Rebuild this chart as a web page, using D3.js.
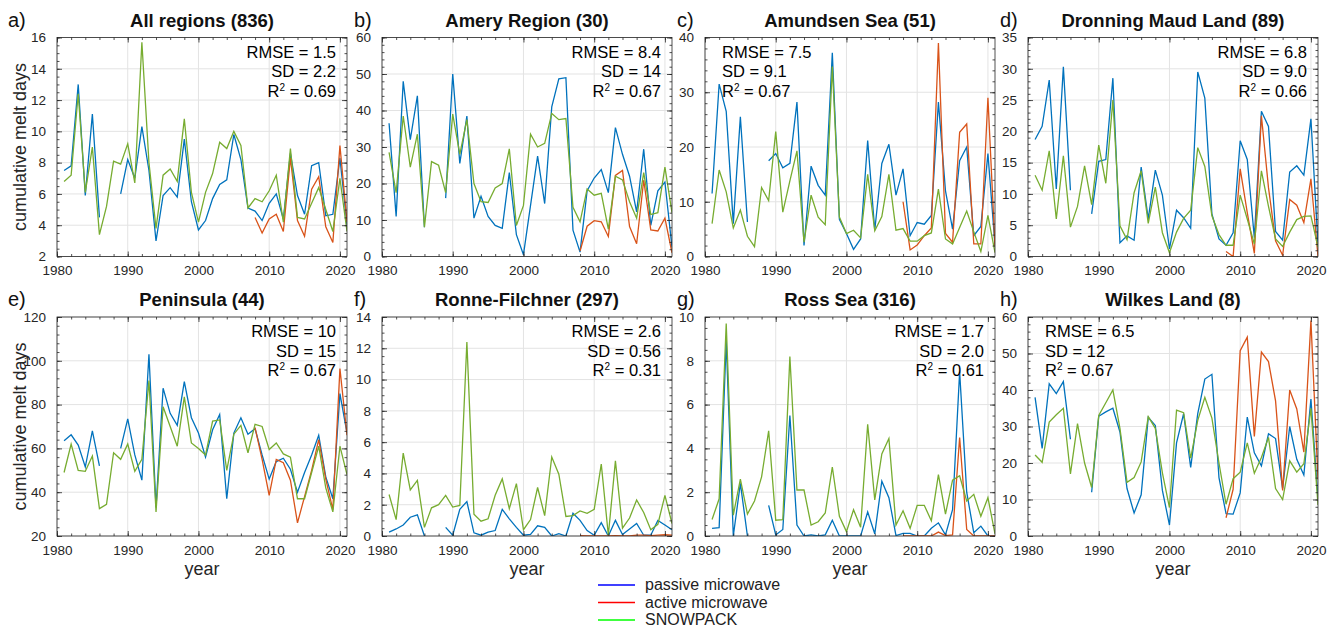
<!DOCTYPE html>
<html>
<head>
<meta charset="utf-8">
<script src="https://cdn.jsdelivr.net/npm/d3@7"></script>
<style>
  body { margin: 0; background: #fff; }
  svg { font-family: "Liberation Sans", Arial, Helvetica, sans-serif; }
</style>
</head>
<body>
<div id="chart"></div>
<script>
(function() {
  var width = 1336,
    height = 627;

  var years = [1981,1982,1983,1984,1985,1986,1987,1988,1989,1990,
    1991,1992,1993,1994,1995,1996,1997,1998,1999,2000,
    2001,2002,2003,2004,2005,2006,2007,2008,2009,2010,
    2011,2012,2013,2014,2015,2016,2017,2018,2019,2020,2021];
  var activeYears = [2008,2009,2010,2011,2012,2013,2014,2015,2016,2017,2018,2019,2020,2021];
  var xTicks = [1980, 1990, 2000, 2010, 2020];

  // a) all regions
  var allPassive = [7.5,7.8,13.0,5.9,11.1,4.5,null,null,6.0,8.2, 7.0,10.3,7.5,3.0,5.9,6.4,5.8,9.5,5.5,3.7, 4.3,5.7,6.6,6.9,9.8,8.2,5.1,4.9,4.3,5.4, 6.0,4.4,8.6,5.9,4.7,7.8,8.0,4.6,4.7,8.3, 4.0];
  var allActive = [4.5,3.5,4.4,4.7,3.6,8.3,4.3,3.3,6.3,7.1,3.9,2.9,9.1,4.2];
  var allSnow = [6.8,7.2,12.4,6.1,9.0,3.4,5.2,8.1,7.9,9.2, 6.7,15.7,8.0,3.8,7.2,7.6,6.8,10.8,6.1,4.2, 6.1,7.3,9.3,8.9,10.0,9.1,5.1,5.7,5.5,6.2, 7.2,4.2,8.9,4.5,4.4,5.4,6.4,5.0,3.6,7.0, 3.6];

  // b) amery
  var ameryPassive = [36.5,11,48,32,44,8,null,null,16,50, 25.5,38.5,10.5,16.5,11,8.5,7.7,23,6,0.5, 14,27.5,14.5,41,48.7,49,7.2,1.2,18,21.5, 23.8,17.5,35.3,28,22,12.2,29.4,8.5,18,20.4, 2.5];
  var ameryActive = [1.5,8.3,9.8,9.5,5.5,22.2,23.6,8.2,3.5,20.9,7.3,7,10.5,1];
  var amerySnow = [28.5,17.5,38.5,24.5,33.5,8,26,25,17.5,39, 28,37.5,20,15,14.8,18.8,20,29.5,8.5,14, 33.5,30,31,39.2,37.5,37.8,13.5,9.5,18.5,16.8, 17.3,7.5,22,21,15,10.5,23,11.5,12,24.5, 12];

  // c) amundsen
  var amundsenPassive = [11.5,31.5,26.5,6,25.5,6.3,null,null,17.5,18.8, 16.2,17,28.2,2,16.5,13,11.2,37.2,6.8,4.2, 1.3,3.2,21.2,4.8,17,20.5,11.2,16,3.8,6.2, 5.9,7.5,28.2,12,5,17.5,20,3.8,5.5,18.8, 2];
  var amundsenActive = [10,1.2,2.1,3.8,5.2,39,4.2,2.6,22.7,24.2,2.3,2.3,29,1.8];
  var amundsenSnow = [6,15.8,11.8,5.2,8.5,3.7,1.8,12.6,10.2,22.8, 8.1,13.8,19.3,2.6,11.2,7.2,5.8,34.7,7.2,4.2, 4.8,3.4,15,4.7,7.3,15,4.8,5.1,2.8,2.8, 3.8,4.3,12.3,3.2,2.3,5.3,8.3,4.5,0.9,7.5, 0.7];

  // d) dronning maud land
  var dmlPassive = [18.7,20.8,28.2,10.8,30.3,10.6,null,null,6.8,15.2, 15.5,28.5,2.2,3.3,2.6,14.3,6,13.8,9.8,1.2, 7.4,6.2,4.5,29.5,25.3,6.8,2.8,1.8,3.8,18.5, 15.5,3,23.2,20.8,4,2.6,13.5,14.5,13,22, 1.8];
  var dmlActive = [0.8,0,14,7,0.5,22.5,11,2.5,0.2,9.1,8.2,5.4,12.4,0];
  var dmlSnow = [13,10.6,16.9,6,16.1,4.7,8,14.5,8.3,17.8, 11.7,25,4.9,2.7,10.2,13.7,5.3,11.1,3.8,0.6, 3.9,6.1,7.4,17.4,14.4,6.5,3.5,1.8,1.8,9.8, 6,2,13.7,8,2.8,1.6,3.9,5.9,6.4,6.5, 1.5];

  // e) peninsula
  var penPassive = [63.5,66.2,61.5,51.5,68,52,null,null,60,73.5, 57,45.5,103,33,87.5,76,70.5,90.5,74,67, 56,68.5,75.5,37,67,74,66.5,69,57,46, 54,55.5,50.5,40,49,57,66,47,37,85, 67];
  var penActive = [69.5,55,38.5,55,53.5,45.5,26,38,50,64,46,32,96.5,66];
  var penSnow = [49,62,50,49.5,56.5,32.5,34.5,58,55,62, 49.5,55,91,31,79,70,61,83.5,62.5,60, 57,72.5,73,50,66.5,70.5,58,71,70,59.5, 62.5,57.5,56,37,37,49,61,42,31,61, 48];

  // f) ronne-filchner
  var ronnePassive = [0.25,0.45,0.7,1.2,1.35,0,null,null,0.55,0.05, 1.7,2.2,0.2,0.05,0.25,0.35,1.7,1.1,0.55,0.05, 0.1,0.65,0.55,0,0.15,0,1.45,1.0,0.35,0.05, 0.85,0,1.0,0.1,0.45,0.8,0.05,0.05,1.0,0.7, 0.4];
  var ronneActive = [0.02,0.01,0.01,0.01,0.01,0.02,0.01,0.01,0.05,0.06,0.03,0.05,0.08,0.05];
  var ronneSnow = [2.65,1.05,5.3,2.95,3.55,0.55,1.8,2.0,2.6,1.85, 1.95,12.4,1.4,0.95,1.1,2.6,3.65,1.75,3.35,0.4, 1.05,3.1,1.3,5.05,3.95,1.25,1.3,1.6,1.45,1.7, 4.6,0.05,4.8,0.5,1.15,2.3,1.5,0.4,0.75,2.6, 0.8];

  // g) ross sea
  var rossPassive = [0.35,0.38,8.9,0,2.4,0,null,null,1.4,0.05, 0.3,5.5,0.5,0,0.05,0,0.05,0.72,0,0, 0,0,1.1,0.1,2.5,1.75,0.02,0.12,0.12,0, 0,0.35,0.6,0.05,1.2,7.5,2.0,0.15,0.45,0, 0];
  var rossActive = [0,0,0,0,0,0.18,0.02,0.05,4.5,0.3,0,0,0,0];
  var rossSnow = [0.75,1.7,9.7,0.95,2.6,1.0,1.6,2.7,4.8,0.72, 0.75,8.2,2.1,2.1,0.5,0.65,1.05,3.15,0.9,0.2, 1.2,0.4,5.1,1.65,3.75,4.45,0.5,1.15,0.35,1.4, 1.4,0.7,2.8,1.0,2.55,2.75,1.6,1.9,0.9,1.75, 0.1];

  // h) wilkes land
  var wilkesPassive = [38,24,41.7,39,42.3,26.5,null,null,12,32.8, 34,35,28.5,13,6.3,11.3,32.5,30.3,12.5,3, 25.5,33.5,18.8,33.5,43,44.3,16,6.1,6,11.8, 32.6,22.8,19.2,28,26.7,13,30,21,16.7,37.5, 10];
  var wilkesActive = [5,12.8,50.8,54.5,27.3,50.4,47.8,37,12.5,40,34.8,23,59,15.5];
  var wilkesSnow = [22.2,20.2,31.2,33.2,35,17,30.8,20,13.3,33, 36.5,40,29.5,14.7,16,20.3,32.7,29.5,17.3,7.8, 34.5,33.8,21.3,31.7,38,32.3,20,8.7,15.7,17.5, 25.5,17.2,21.5,27,13,10,20.6,17.5,19.8,35, 8.5];

  var letters = ["a)", "b)", "c)", "d)", "e)", "f)", "g)", "h)"];
  var titles = ["All regions (836)", "Amery Region (30)", "Amundsen Sea (51)", "Dronning Maud Land (89)",
    "Peninsula (44)", "Ronne-Filchner (297)", "Ross Sea (316)", "Wilkes Land (8)"];
  var rmse = ["1.5", "8.4", "7.5", "6.8", "10", "2.6", "1.7", "6.5"];
  var sd = ["2.2", "14", "9.1", "9.0", "15", "0.56", "2.0", "12"];
  var r2 = ["0.69", "0.67", "0.67", "0.66", "0.67", "0.31", "0.61", "0.67"];
  var yTicks = [
    [2,4,6,8,10,12,14,16],
    [0,10,20,30,40,50,60],
    [0,10,20,30,40],
    [0,5,10,15,20,25,30,35],
    [20,40,60,80,100,120],
    [0,2,4,6,8,10,12,14],
    [0,2,4,6,8,10],
    [0,10,20,30,40,50,60]
  ];
  var passive = [allPassive, ameryPassive, amundsenPassive, dmlPassive, penPassive, ronnePassive, rossPassive, wilkesPassive];
  var active = [allActive, ameryActive, amundsenActive, dmlActive, penActive, ronneActive, rossActive, wilkesActive];
  var snow = [allSnow, amerySnow, amundsenSnow, dmlSnow, penSnow, ronneSnow, rossSnow, wilkesSnow];

  var legendNames = ["passive microwave", "active microwave", "SNOWPACK"];
  var legendColors = ["#0000ff", "#ff0000", "#00ff00"];

  var colPassive = "#0072BD",
    colActive = "#D95319",
    colSnow = "#77AC30",
    axisCol = "#262626";

  var colLeft = [57, 382, 705, 1028],
    rowTop = [37.5, 317],
    pw = 290,
    ph = 219;

  var svg = d3.select("#chart")
    .append("svg")
    .attr("width", width)
    .attr("height", height)

  svg.append("rect").attr("width", width).attr("height", height).attr("fill", "#fff")

  letters.forEach(function(letter, i) {
    var col = i % 4,
      row = Math.floor(i / 4),
      left = colLeft[col],
      top = rowTop[row],
      ticks = yTicks[i],
      yStep = ticks[1] - ticks[0];

    var x = d3.scaleLinear().domain([1980, 2021]).range([0, pw])
    var y = d3.scaleLinear().domain([ticks[0], ticks[ticks.length - 1]]).range([ph, 0])

    var g = svg.append("g").attr("transform", "translate(" + left + "," + top + ")")

    // grid
    g.selectAll(".gx").data(xTicks).enter().append("line")
      .attr("x1", function(d) { return x(d) }).attr("x2", function(d) { return x(d) })
      .attr("y1", 0).attr("y2", ph)
      .attr("stroke", "#e3e3e3").attr("stroke-width", 1)
    g.selectAll(".gy").data(ticks).enter().append("line")
      .attr("x1", 0).attr("x2", pw)
      .attr("y1", function(d) { return y(d) }).attr("y2", function(d) { return y(d) })
      .attr("stroke", "#e3e3e3").attr("stroke-width", 1)

    g.append("clipPath").attr("id", "clip" + i)
      .append("rect").attr("width", pw).attr("height", ph)

    var plot = g.append("g").attr("clip-path", "url(#clip" + i + ")")

    var line = d3.line()
      .defined(function(d) { return d[1] !== null })
      .x(function(d) { return x(d[0]) })
      .y(function(d) { return y(d[1]) })

    var pData = years.map(function(yr, k) { return [yr, passive[i][k]] })
    var aData = activeYears.map(function(yr, k) { return [yr, active[i][k]] })
    var sData = years.map(function(yr, k) { return [yr, snow[i][k]] })

    plot.append("path").datum(pData).attr("d", line)
      .attr("fill", "none").attr("stroke", colPassive).attr("stroke-width", 1.3)
    plot.append("path").datum(aData).attr("d", line)
      .attr("fill", "none").attr("stroke", colActive).attr("stroke-width", 1.3)
    plot.append("path").datum(sData).attr("d", line)
      .attr("fill", "none").attr("stroke", colSnow).attr("stroke-width", 1.3)

    // axes with inward ticks
    var xMinor = d3.range(1980, 2022, 2)
    var yMinor = d3.range(ticks[0], ticks[ticks.length - 1] + 1e-9, yStep <= 2 ? 0.5 : (yStep == 5 ? 1 : yStep / 5))

    function styleAxis(sel) {
      sel.select(".domain").remove()
      sel.selectAll("line").attr("stroke", axisCol).attr("stroke-width", 0.8)
      sel.selectAll("text").attr("fill", axisCol).style("font-size", "13.5px")
        .style("font-family", "'Liberation Sans', Arial, sans-serif")
    }

    g.append("g").attr("transform", "translate(0," + ph + ")")
      .call(d3.axisBottom(x).tickValues(xTicks).tickFormat(d3.format("d")).tickSize(-5).tickPadding(9))
      .call(styleAxis)
    g.append("g").attr("transform", "translate(0," + ph + ")")
      .call(d3.axisBottom(x).tickValues(xMinor).tickFormat("").tickSize(-2.5))
      .call(styleAxis)
    g.append("g")
      .call(d3.axisTop(x).tickValues(xTicks).tickFormat("").tickSize(-5))
      .call(styleAxis)
    g.append("g")
      .call(d3.axisTop(x).tickValues(xMinor).tickFormat("").tickSize(-2.5))
      .call(styleAxis)
    g.append("g")
      .call(d3.axisLeft(y).tickValues(ticks).tickFormat(d3.format("d")).tickSize(-5).tickPadding(11))
      .call(styleAxis)
    g.append("g")
      .call(d3.axisLeft(y).tickValues(yMinor).tickFormat("").tickSize(-2.5))
      .call(styleAxis)
    g.append("g").attr("transform", "translate(" + pw + ",0)")
      .call(d3.axisRight(y).tickValues(ticks).tickFormat("").tickSize(-5))
      .call(styleAxis)
    g.append("g").attr("transform", "translate(" + pw + ",0)")
      .call(d3.axisRight(y).tickValues(yMinor).tickFormat("").tickSize(-2.5))
      .call(styleAxis)

    g.append("rect").attr("width", pw).attr("height", ph)
      .attr("fill", "none").attr("stroke", axisCol).attr("stroke-width", 0.8)

    // title and letter
    g.append("text").attr("x", pw / 2).attr("y", -11)
      .attr("text-anchor", "middle").attr("font-weight", "bold")
      .style("font-size", "18.5px").attr("fill", "#111")
      .text(titles[i])
    g.append("text").attr("x", col == 0 ? -49 : -28).attr("y", -11)
      .style("font-size", "20px").attr("fill", "#111")
      .text(letter)

    // stats
    var leftAlign = (i == 2 || i == 7)
    var sx = leftAlign ? 17 : pw - 11
    var anchor = leftAlign ? "start" : "end"
    var stats = g.append("g").style("font-size", "16.5px").attr("fill", "#000").attr("text-anchor", anchor)
    stats.append("text").attr("x", sx).attr("y", 20).text("RMSE = " + rmse[i])
    stats.append("text").attr("x", sx).attr("y", 39.5).text("SD = " + sd[i])
    var r = stats.append("text").attr("x", sx).attr("y", 59)
    r.append("tspan").text("R")
    r.append("tspan").attr("dy", -6).style("font-size", "10px").text("2")
    r.append("tspan").attr("dy", 6).text(" = " + r2[i])

    if (col == 0) {
      g.append("text")
        .attr("transform", "translate(-31," + (ph / 2) + ") rotate(-90)")
        .attr("text-anchor", "middle")
        .style("font-size", "18px").attr("fill", axisCol)
        .text("cumulative melt days")
    }
    if (row == 1) {
      g.append("text").attr("x", pw / 2).attr("y", ph + 39)
        .attr("text-anchor", "middle")
        .style("font-size", "18px").attr("fill", axisCol)
        .text("year")
    }
  })

  // legend
  var legend = svg.append("g").attr("transform", "translate(598,585)")
  legendNames.forEach(function(name, k) {
    legend.append("line").attr("x1", 0).attr("x2", 37)
      .attr("y1", k * 17.5).attr("y2", k * 17.5)
      .attr("stroke", legendColors[k]).attr("stroke-width", 1.5)
    legend.append("text").attr("x", 47).attr("y", k * 17.5 + 5)
      .style("font-size", "16px").attr("fill", "#222")
      .text(name)
  })
})();
</script>
</body>
</html>
